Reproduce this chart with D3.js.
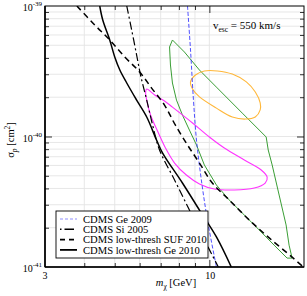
<!DOCTYPE html>
<html><head><meta charset="utf-8">
<script src="https://cdn.jsdelivr.net/npm/d3@7"></script>
<style>body{margin:0;background:#fff}svg{display:block}text{font-family:"Liberation Serif","Times New Roman",serif}</style>
</head><body>
<script>
// ---- data (mass in GeV, cross-section in cm^2) ----
const xTickLabels = ["3","10"];
const yTickLabels = ["-39","-40","-41"];
const legendLabels = ["CDMS Ge 2009","CDMS Si 2005","CDMS low-thresh SUF 2010","CDMS low-thresh Ge 2010"];
const cdmsGe2009 = [[8.52,1e-39],[8.71,4.6e-40],[8.90,1.9e-40],[9.10,9.4e-41],[9.43,4.64e-41],[9.86,2.29e-41],[10.53,1e-41]];
const cdmsSi2005 = [[5.46,1e-39],[5.66,6.55e-40],[5.87,4.21e-40],[6.04,2.96e-40],[6.32,1.9e-40],[6.60,1.22e-40],[6.94,7.88e-41],[7.75,4.64e-41],[8.64,2.73e-41],[9.57,1.67e-41],[10.68,1e-41]];
const cdmsSUF2010 = [[3.79,1e-39],[4.32,7.15e-40],[4.82,5.49e-40],[5.38,4.07e-40],[6.00,3.12e-40],[6.55,2.35e-40],[7.20,1.74e-40],[7.80,1.22e-40],[8.52,8.61e-41],[9.30,6.26e-41],[10.22,4.4e-41],[11.57,3.26e-41],[13.40,2.29e-41],[15.50,1.67e-41],[18.33,1.19e-41],[19.72,1.02e-41]];
const cdmsGe2010 = [[4.48,1e-39],[4.58,7.81e-40],[4.82,5.49e-40],[5.00,4.07e-40],[5.19,3.23e-40],[5.46,2.57e-40],[5.87,1.9e-40],[6.32,1.41e-40],[6.79,9.4e-41],[7.10,7.47e-41],[8.21,4.4e-41],[9.30,2.73e-41],[10.53,1.7e-41],[11.74,1e-41]];
const greenRegion = [[7.63,5.49e-40],[8.33,4.44e-40],[9.30,3.23e-40],[10.53,2.39e-40],[12.73,1.51e-40],[14.41,1.12e-40],[15.16,9.91e-41],[15.39,7.88e-41],[15.84,6.05e-41],[16.67,3.56e-41],[17.54,2.1e-41],[17.93,1.47e-41],[18.33,1.17e-41],[17.67,1.17e-41],[16.07,1.47e-41],[14.41,1.92e-41],[12.73,2.59e-41],[11.57,3.26e-41],[10.53,4.25e-41],[9.64,6.05e-41],[9.10,8.61e-41],[8.64,1.12e-40],[8.21,1.46e-40],[7.86,1.9e-40],[7.63,2.57e-40],[7.52,3.53e-40],[7.47,4.85e-40]];
const orangeRegion = [[8.71,2.62e-40],[9.03,2.96e-40],[9.64,3.18e-40],[10.60,3.18e-40],[11.83,3.01e-40],[13.11,2.62e-40],[14.00,2.19e-40],[14.51,1.81e-40],[14.51,1.6e-40],[14.00,1.41e-40],[13.01,1.36e-40],[11.83,1.41e-40],[10.53,1.65e-40],[9.30,2.01e-40],[8.84,2.31e-40]];
const magentaRegion = [[6.32,2.31e-40],[6.70,2.08e-40],[7.20,1.87e-40],[7.63,1.68e-40],[8.84,1.27e-40],[10.0,9.91e-41],[11.16,8.16e-41],[12.92,6.61e-41],[14.62,5.54e-41],[15.27,4.89e-41],[15.05,4.4e-41],[13.89,4.03e-41],[12.00,3.89e-41],[10.37,3.96e-41],[9.30,4.33e-41],[8.45,5.07e-41],[7.75,6.26e-41],[7.25,8.16e-41],[6.89,1.06e-40],[6.50,1.46e-40],[6.32,1.9e-40],[6.27,2.19e-40]];

const W=307,H=296, L=45, R=304, T=6, B=267;
const svg=d3.select("body").append("svg").attr("width",W).attr("height",H);
const x=d3.scaleLog().domain([3,20]).range([L,R]);
const y=d3.scaleLog().domain([1e-41,1e-39]).range([B,T]);

const xMinor=[4,5,6,7,8,9];
const yMinor=[];
[1e-41,1e-40].forEach(d=>{for(let k=2;k<=9;k++) yMinor.push(d*k);});

// grid
const g=svg.append("g");
g.selectAll(".gx").data(xMinor.concat([10])).enter().append("line")
 .attr("x1",d=>x(d)).attr("x2",d=>x(d)).attr("y1",T).attr("y2",B).attr("stroke","#e4e4e4").attr("stroke-width",0.9);
g.selectAll(".gy").data(yMinor.concat([1e-40])).enter().append("line")
 .attr("y1",d=>y(d)).attr("y2",d=>y(d)).attr("x1",L).attr("x2",R).attr("stroke","#e4e4e4").attr("stroke-width",0.9);

// clip
svg.append("clipPath").attr("id","clip").append("rect").attr("x",L).attr("y",T).attr("width",R-L).attr("height",B-T);
const plot=svg.append("g").attr("clip-path","url(#clip)");
const smoothClosed=d3.line().x(d=>x(d[0])).y(d=>y(d[1])).curve(d3.curveCatmullRomClosed.alpha(0.5));
const linClosed=d3.line().x(d=>x(d[0])).y(d=>y(d[1])).curve(d3.curveLinearClosed);

plot.append("path").attr("d",linClosed(greenRegion)).attr("fill","none").attr("stroke","#3a9e35").attr("stroke-width",1);
plot.append("path").attr("d",smoothClosed(orangeRegion)).attr("fill","none").attr("stroke","#ffb739").attr("stroke-width",1.1);
plot.append("path").attr("d",smoothClosed(magentaRegion)).attr("fill","none").attr("stroke","#ff33ff").attr("stroke-width",1.1);

const lineSpan=d3.line().x(d=>x(d[0])).y(d=>y(d[1])).curve(d3.curveCatmullRom.alpha(0.5));
const styles=[
 {data:cdmsGe2009,color:"#3b3bff",w:0.9,dash:"4,2"},
 {data:cdmsSi2005,color:"#000",w:1.2,dash:"8,3,2,3"},
 {data:cdmsSUF2010,color:"#000",w:1.5,dash:"6,4"},
 {data:cdmsGe2010,color:"#000",w:1.5,dash:null}
];
styles.forEach(s=>{
 plot.append("path").attr("d",lineSpan(s.data)).attr("fill","none").attr("stroke",s.color)
  .attr("stroke-width",s.w).attr("stroke-dasharray",s.dash);
});

// axes with inward ticks
function ax(axis,tr){return svg.append("g").attr("transform",tr).call(axis).call(a=>{a.selectAll("text").remove();a.select(".domain").remove();a.selectAll("line").attr("stroke","#000").attr("stroke-width",0.8);});}
ax(d3.axisBottom(x).tickValues(xMinor).tickSize(-4),`translate(0,${B})`);
ax(d3.axisBottom(x).tickValues([10]).tickSize(-7),`translate(0,${B})`);
ax(d3.axisTop(x).tickValues(xMinor).tickSize(-4),`translate(0,${T})`);
ax(d3.axisTop(x).tickValues([10]).tickSize(-7),`translate(0,${T})`);
ax(d3.axisLeft(y).tickValues(yMinor).tickSize(-4),`translate(${L},0)`);
ax(d3.axisLeft(y).tickValues([1e-40]).tickSize(-7),`translate(${L},0)`);
ax(d3.axisRight(y).tickValues(yMinor).tickSize(-4),`translate(${R},0)`);
ax(d3.axisRight(y).tickValues([1e-40]).tickSize(-7),`translate(${R},0)`);

// frame
svg.append("rect").attr("x",L).attr("y",T).attr("width",R-L).attr("height",B-T).attr("fill","none").attr("stroke","#000").attr("stroke-width",1);
svg.append("line").attr("x1",L).attr("x2",L).attr("y1",T).attr("y2",B).attr("stroke","#000").attr("stroke-width",1.6);
svg.append("line").attr("x1",L).attr("x2",R).attr("y1",B).attr("y2",B).attr("stroke","#000").attr("stroke-width",1.6);

// tick labels
[1e-39,1e-40,1e-41].forEach((v,i)=>{
 const t=svg.append("text").attr("x",L-3).attr("y",y(v)+5).attr("text-anchor","end").attr("font-size",10);
 t.append("tspan").text("10");
 t.append("tspan").attr("dy",-5).attr("font-size",7).text(yTickLabels[i]);
});
[3,10].forEach((v,i)=>{
 svg.append("text").attr("x",x(v)+(i===0?0:1)).attr("y",B+12).attr("text-anchor","middle").attr("font-size",10).text(xTickLabels[i]);
});

// axis titles
const xt=svg.append("text").attr("x",176).attr("y",286).attr("text-anchor","middle").attr("font-size",10.5);
xt.append("tspan").attr("font-style","italic").text("m");
xt.append("tspan").attr("dy",2.5).attr("font-size",7.5).text("χ");
xt.append("tspan").attr("dy",-2.5).text(" [GeV]");
const yt=svg.append("text").attr("transform","translate(14,140) rotate(-90)").attr("text-anchor","middle").attr("font-size",10.5);
yt.append("tspan").text("σ");
yt.append("tspan").attr("dy",2.5).attr("font-size",7.5).attr("font-style","italic").text("p");
yt.append("tspan").attr("dy",-2.5).text(" [cm");
yt.append("tspan").attr("dy",-4).attr("font-size",7.5).text("2");
yt.append("tspan").attr("dy",4).text("]");

// annotation
const an=svg.append("text").attr("x",213).attr("y",29).attr("font-size",11);
an.append("tspan").text("v");
an.append("tspan").attr("dy",2.5).attr("font-size",7.5).text("esc");
an.append("tspan").attr("dy",-2.5).text(" = 550 km/s");

// legend
const lg=svg.append("g");
lg.append("rect").attr("x",56).attr("y",211).attr("width",152).attr("height",47).attr("fill","#fff").attr("stroke","#000").attr("stroke-width",0.9);
legendLabels.forEach((lab,i)=>{
 const cy=219+i*10.3, s=styles[i];
 lg.append("line").attr("x1",60).attr("x2",77).attr("y1",cy).attr("y2",cy).attr("stroke",s.color==="#000"?"#000":"#8f8fff")
  .attr("stroke-width",s.w+0.3).attr("stroke-dasharray",i===0?"3,2":i===1?"1.5,3,8,0":i===2?"5,4":null);
 lg.append("text").attr("x",83).attr("y",cy+3.8).attr("font-size",10.6).text(lab);
});
</script>
</body></html>
